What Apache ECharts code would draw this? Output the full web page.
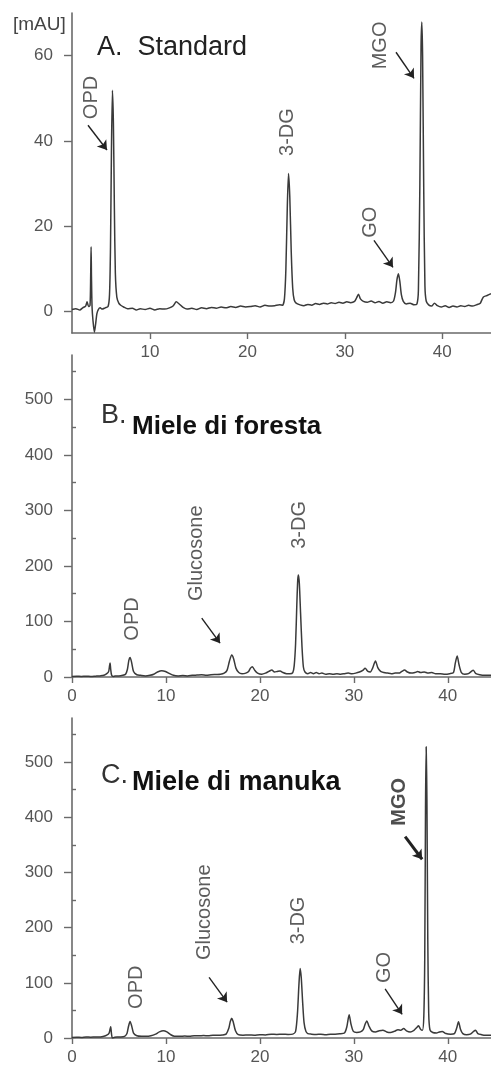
<!DOCTYPE html>
<html>
<head>
<meta charset="utf-8">
<script src="https://cdn.jsdelivr.net/npm/echarts@6/dist/echarts.min.js"></script>
<style>
html,body{margin:0;padding:0;background:#fff;}
#c{width:491px;height:1066px;}
</style>
</head>
<body>
<div id="c"></div>
<script>
// ---- Data (retention time [min], signal) ----
const traceA = [
[2.0,0.5],[2.4,0.7],[2.8,0.4],[3.1,0.9],[3.4,1.3],[3.55,2.3],[3.7,1.2],[3.85,1.5],[3.92,9],[3.96,15.2],[4.0,8],[4.06,1.0],[4.15,-2],[4.3,-4.8],[4.42,-3],[4.55,-0.5],[4.7,0.5],[4.9,0.9],[5.1,0.6],[5.4,0.9],[5.7,1.2],[5.85,4],[5.95,15],[6.05,38],[6.15,51.9],[6.25,44],[6.35,24],[6.45,9],[6.6,3.4],[6.8,2.0],[7.0,1.5],[7.3,1.1],[7.7,0.7],[8.2,0.8],[8.6,0.4],[9.0,0.7],[9.5,0.5],[10,0.8],[10.5,0.4],[11,0.7],[11.5,0.6],[12,0.9],[12.4,1.4],[12.7,2.3],[13,1.8],[13.4,1.0],[13.8,0.6],[14.3,0.8],[14.8,0.5],[15.3,0.9],[15.8,0.7],[16.3,1.0],[16.8,0.8],[17.3,1.1],[17.8,0.9],[18.3,1.2],[18.8,1.0],[19.3,1.3],[19.8,1.1],[20.3,1.2],[20.8,1.4],[21.3,1.1],[21.8,1.5],[22.3,1.3],[22.8,1.4],[23.3,1.6],[23.6,1.5],[23.8,3],[23.95,10],[24.1,25],[24.22,32.4],[24.35,27],[24.5,14],[24.65,5.5],[24.8,2.8],[25.0,2.0],[25.4,1.6],[25.8,1.4],[26.2,1.7],[26.6,1.5],[27,1.9],[27.4,1.7],[27.8,2.0],[28.2,1.8],[28.6,2.1],[29,1.9],[29.4,2.2],[29.8,2.0],[30.2,2.3],[30.6,2.1],[31.0,2.4],[31.2,3.2],[31.4,4.1],[31.6,3.0],[31.9,2.4],[32.3,2.2],[32.7,2.5],[33.1,2.1],[33.5,2.4],[33.9,2.0],[34.3,2.3],[34.7,2.1],[35.0,2.5],[35.2,4.5],[35.35,7.5],[35.5,8.9],[35.65,7.0],[35.8,4.0],[36.0,2.4],[36.3,1.8],[36.7,2.0],[37.1,1.6],[37.4,1.8],[37.55,5],[37.7,30],[37.82,62],[37.9,67.9],[37.98,60],[38.1,28],[38.22,6],[38.35,2.5],[38.6,1.6],[38.9,1.3],[39.2,2.0],[39.5,1.4],[39.9,1.1],[40.3,1.4],[40.7,1.0],[41.1,1.3],[41.5,1.1],[41.9,1.4],[42.3,1.2],[42.7,1.5],[43.1,1.3],[43.5,1.6],[43.9,2.0],[44.2,3.4],[44.6,3.8],[45,4.2]
];
const traceB = [
[0,1],[0.5,1.5],[1,1],[1.5,1.5],[2,1],[2.5,1.5],[3,2],[3.4,3],[3.7,6],[3.9,10],[3.98,18],[4.05,25],[4.12,14],[4.22,3],[4.4,1],[4.6,2],[5.0,2],[5.4,3],[5.7,5],[5.9,14],[6.05,30],[6.18,35],[6.35,26],[6.55,10],[6.9,4],[7.3,3],[7.8,2],[8.3,3],[8.7,5],[9.1,9],[9.55,11.4],[9.95,10],[10.4,6],[10.8,3],[11.3,2],[11.8,2.5],[12.3,2],[12.8,3],[13.3,3.5],[13.8,4],[14.3,3],[14.8,4],[15.3,4.5],[15.8,5],[16.2,7],[16.5,12],[16.75,28],[17.0,39.6],[17.2,33],[17.45,16],[17.75,8],[18.1,6],[18.5,7],[18.8,10],[19.0,16],[19.2,18.6],[19.45,12],[19.75,7],[20.2,5],[20.6,7],[20.95,10],[21.27,12.6],[21.55,9],[21.85,10],[22.15,11],[22.45,8],[22.85,6],[23.2,6],[23.5,8],[23.65,20],[23.8,60],[23.93,130],[24.03,175],[24.1,183.8],[24.2,168],[24.33,115],[24.48,55],[24.63,18],[24.8,9],[25.1,6],[25.4,8],[25.7,6],[26.0,8],[26.3,6],[26.6,7],[27.0,5],[27.4,6],[27.8,5],[28.2,6],[28.6,5],[29.0,6],[29.4,7],[29.8,6],[30.2,7],[30.6,9],[30.95,12],[31.2,15.7],[31.5,10],[31.75,9],[32.0,16],[32.3,28.8],[32.55,17],[32.85,10],[33.2,8],[33.6,7],[34.0,6],[34.4,7],[34.8,7],[35.1,10],[35.4,12.6],[35.7,9],[36.1,7],[36.5,8],[36.8,10],[37.1,8],[37.5,9],[37.9,7],[38.3,8],[38.7,6],[39.2,6],[39.7,5],[40.2,6],[40.6,8],[40.8,25],[41.0,37.8],[41.2,22],[41.45,8],[41.8,5],[42.2,6],[42.7,12],[43.0,6],[43.4,4],[43.9,3],[44.6,3]
];
const traceC = [
[0,1],[0.5,1.5],[1,1],[1.5,2],[2,1.5],[2.5,2],[3,2],[3.4,3],[3.7,5],[3.95,9],[4.05,16],[4.12,20.4],[4.2,8],[4.3,0],[4.5,1],[4.8,2],[5.2,2],[5.6,3],[5.85,8],[6.0,20],[6.18,30],[6.35,22],[6.55,9],[6.9,4],[7.4,3],[7.9,3],[8.4,4],[8.9,7],[9.3,11],[9.72,13],[10.1,11],[10.5,6],[10.9,3],[11.5,3],[12,3.5],[12.5,3],[13,4],[13.5,4],[14,4.5],[14.5,4],[15,5],[15.5,5],[16,5.5],[16.4,7],[16.7,18],[16.85,30],[17.0,35.6],[17.15,30],[17.4,13],[17.7,6],[18.2,5],[18.8,5.5],[19.4,5],[20,6],[20.6,5.5],[21.2,7],[21.8,6.5],[22.4,7],[23.0,6.5],[23.5,7],[23.8,12],[24.0,45],[24.15,95],[24.28,126],[24.4,110],[24.55,65],[24.7,28],[24.9,12],[25.1,8],[25.5,7],[26,6.5],[26.5,7],[27,6],[27.5,7],[28,7],[28.5,7.5],[29.0,9],[29.25,20],[29.5,42],[29.7,25],[29.95,12],[30.3,10],[30.7,11],[31.0,15],[31.2,25],[31.38,31],[31.6,22],[31.9,13],[32.3,11],[32.7,13],[33.1,14],[33.5,11],[33.9,10],[34.3,12],[34.7,15],[35.0,14],[35.3,17],[35.6,13],[36.0,11],[36.4,14],[36.7,19],[36.88,22],[37.1,16],[37.3,14],[37.45,40],[37.55,150],[37.63,420],[37.7,528],[37.78,430],[37.87,180],[37.97,45],[38.1,15],[38.4,10],[38.8,9],[39.1,11],[39.4,12],[39.8,8],[40.3,7],[40.7,8],[40.95,18],[41.14,29.5],[41.35,16],[41.6,8],[42.0,6],[42.4,7],[42.75,12],[42.95,14],[43.2,8],[43.6,6],[44.0,5],[44.6,5]
];

// tick labels
const xTicksA = [10, 20, 30, 40];
const xTicksBC = [0, 10, 20, 30, 40];
const yLabelsA = [0, 20, 40, 60];
const yMinorA = [10, 30, 50];
const yLabelsBC = [0, 100, 200, 300, 400, 500];
const yMinorBC = [50, 150, 250, 350, 450, 550];

// peak annotations [time, signal, text]
const labelsA = [[4.02, 50.2, 'OPD'], [24.07, 42.1, '3-DG'], [33.61, 62.4, 'MGO'], [32.66, 20.95, 'GO']];
const arrowsA = [[[3.64, 43.7], [5.59, 37.9]], [[35.25, 60.8], [37.1, 54.7]], [[32.99, 16.7], [34.94, 10.4]]];
const labelsB = [[6.44, 104.5, 'OPD'], [13.2, 223, 'Glucosone'], [24.17, 274, '3-DG']];
const arrowsB = [[[13.81, 106], [15.76, 61]]];
const labelsC = [[6.82, 92, 'OPD'], [14.06, 228, 'Glucosone'], [24.07, 213, '3-DG'], [33.23, 128, 'GO'], [34.82, 428, 'MGO']];
const arrowsC = [[[14.59, 110], [16.51, 65]], [[33.33, 89], [35.14, 43]], [[35.46, 365], [37.27, 324]]];
const boldLabelsC = ['MGO'];

// ---- Chart ----
const FONT = 'Liberation Sans, Arial, sans-serif';
const axisColor = '#6a6a6a';
const tickTextColor = '#555';

function xAxisDef(gi, min, max, ticks) {
  return {
    type: 'value', gridIndex: gi, min: min, max: max,
    axisLine: { onZero: false, lineStyle: { color: axisColor, width: 1.6 } },
    axisTick: { length: 6, customValues: ticks, lineStyle: { color: axisColor, width: 1.4 } },
    axisLabel: { customValues: ticks, margin: 11, fontSize: 17, color: tickTextColor, fontFamily: FONT },
    splitLine: { show: false }
  };
}
function yAxisDef(gi, min, max, labels) {
  return {
    type: 'value', gridIndex: gi, min: min, max: max,
    axisLine: { show: true, onZero: false, lineStyle: { color: axisColor, width: 1.6 } },
    axisTick: { show: true, length: 8, customValues: labels, lineStyle: { color: axisColor, width: 1.4 } },
    axisLabel: { customValues: labels, margin: 19, fontSize: 17, color: tickTextColor, fontFamily: FONT },
    splitLine: { show: false }
  };
}
function yMinorDef(gi, min, max, ticks) {
  return {
    type: 'value', gridIndex: gi, min: min, max: max,
    axisLine: { show: false },
    axisTick: { show: true, length: 4, customValues: ticks, lineStyle: { color: axisColor, width: 1.4 } },
    axisLabel: { show: false },
    splitLine: { show: false }
  };
}
function traceSeries(data, xi, yi) {
  return {
    type: 'line', xAxisIndex: xi, yAxisIndex: yi, data: data,
    showSymbol: false, symbol: 'none', smooth: 0.25,
    lineStyle: { color: '#3a3a3a', width: 1.5 }, silent: true
  };
}
function annSeries(labels, arrows, xi, yi) {
  return {
    type: 'scatter', xAxisIndex: xi, yAxisIndex: yi, symbolSize: 1,
    itemStyle: { color: 'rgba(0,0,0,0)' }, silent: true,
    data: labels.map(l => ({
      value: l,
      label: boldLabelsC.indexOf(l[2]) >= 0 && xi === 2 ? { fontWeight: 'bold', color: '#222' } : {}
    })),
    label: {
      show: true, position: 'inside', rotate: 90,
      formatter: p => p.value[2], fontSize: 20, color: '#333', fontFamily: FONT
    },
    markLine: {
      silent: true, symbol: ['none', 'arrow'], symbolSize: 9,
      label: { show: false },
      lineStyle: { color: '#222', width: 1.4, type: 'solid' },
      data: arrows.map((a, i) => {
        const bold = (xi === 2 && i === 2);
        return [
          { coord: a[0], lineStyle: bold ? { width: 3 } : undefined },
          { coord: a[1] }
        ];
      })
    }
  };
}

const chart = echarts.init(document.getElementById('c'), null, { renderer: 'canvas' });
chart.setOption({
  animation: false,
  backgroundColor: '#fff',
  title: [
    { text: '[mAU]', left: 8, top: 10, textStyle: { fontSize: 19, fontWeight: 'normal', color: '#444', fontFamily: FONT } },
    { text: 'A.  Standard', left: 92, top: 29, textStyle: { fontSize: 27, fontWeight: 'normal', color: '#222', fontFamily: FONT } },
    { text: 'B.', left: 96, top: 397, textStyle: { fontSize: 27, fontWeight: 'normal', color: '#333', fontFamily: FONT } },
    { text: 'Miele di foresta', left: 127, top: 409, textStyle: { fontSize: 26, fontWeight: 'bold', color: '#111', fontFamily: FONT } },
    { text: 'C.', left: 96, top: 757, textStyle: { fontSize: 27, fontWeight: 'normal', color: '#333', fontFamily: FONT } },
    { text: 'Miele di manuka', left: 127, top: 764, textStyle: { fontSize: 27, fontWeight: 'bold', color: '#111', fontFamily: FONT } }
  ],
  grid: [
    { left: 72, right: 0, top: 13, height: 320 },
    { left: 72, right: 0, top: 355, height: 322 },
    { left: 72, right: 0, top: 718, height: 321 }
  ],
  xAxis: [
    xAxisDef(0, 2, 45, xTicksA),
    xAxisDef(1, 0, 44.6, xTicksBC),
    xAxisDef(2, 0, 44.6, xTicksBC)
  ],
  yAxis: [
    yAxisDef(0, -5, 70, yLabelsA),
    yAxisDef(1, 0, 580, yLabelsBC),
    yAxisDef(2, 0, 580, yLabelsBC),
    yMinorDef(0, -5, 70, yMinorA),
    yMinorDef(1, 0, 580, yMinorBC),
    yMinorDef(2, 0, 580, yMinorBC)
  ],
  series: [
    traceSeries(traceA, 0, 0),
    traceSeries(traceB, 1, 1),
    traceSeries(traceC, 2, 2),
    annSeries(labelsA, arrowsA, 0, 0),
    annSeries(labelsB, arrowsB, 1, 1),
    annSeries(labelsC, arrowsC, 2, 2)
  ]
});
</script>
</body>
</html>
